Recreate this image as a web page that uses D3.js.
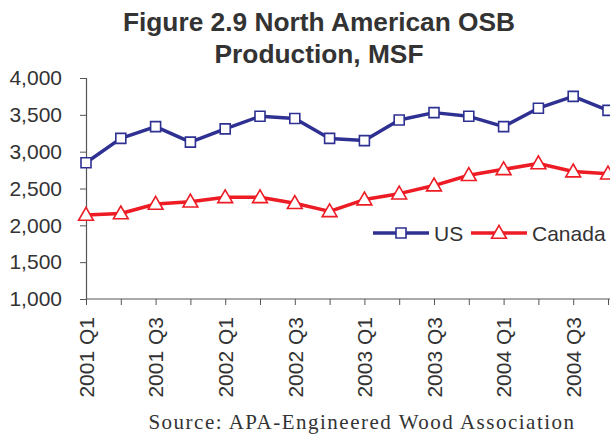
<!DOCTYPE html>
<html><head><meta charset="utf-8">
<script src="https://d3js.org/d3.v7.min.js"></script>
<style>html,body{margin:0;padding:0;background:#fff;}svg{display:block;}</style>
</head><body>
<script>
const quarters = ["2001 Q1","2001 Q2","2001 Q3","2001 Q4","2002 Q1","2002 Q2","2002 Q3","2002 Q4",
  "2003 Q1","2003 Q2","2003 Q3","2003 Q4","2004 Q1","2004 Q2","2004 Q3","2004 Q4"];
const usValues = [2850,3180,3340,3130,3310,3480,3450,3180,3150,3430,3530,3480,3340,3590,3750,3560];
const canadaValues = [2140,2160,2290,2320,2380,2380,2300,2190,2350,2430,2540,2680,2760,2840,2730,2700];
const yTicks = [1000,1500,2000,2500,3000,3500,4000];
const titleLines = ["Figure 2.9 North American OSB","Production, MSF"];
const sourceText = "Source: APA-Engineered Wood Association";

const W = 610, H = 434;
const svg = d3.select("body").append("svg").attr("width", W).attr("height", H);
const x = d3.scalePoint().domain(quarters).range([86, 608]);
const y = d3.scaleLinear().domain([1000, 4000]).range([299, 78]);
const axisColor = "#555";
const textColor = "#333";
const sans = "Liberation Sans, Arial, sans-serif";

// title
svg.append("g").selectAll("text").data(titleLines).join("text")
  .attr("x", 319).attr("y", (d,i) => 31 + i*32)
  .attr("text-anchor", "middle")
  .attr("font-family", sans)
  .attr("font-weight", "bold").attr("font-size", 26.3).attr("fill", textColor)
  .text(d => d);

// y axis
const yAxis = svg.append("g").attr("transform", "translate(86,0)")
  .call(d3.axisLeft(y).tickValues(yTicks).tickFormat(d3.format(",")).tickSize(6).tickPadding(18));
yAxis.select(".domain").attr("stroke", axisColor).attr("stroke-width", 1.2);
yAxis.selectAll(".tick line").attr("stroke", axisColor);
yAxis.selectAll(".tick text").attr("font-family", sans)
  .attr("font-size", 21).attr("fill", textColor).attr("x", -24);

// x axis
const xAxis = svg.append("g").attr("transform", "translate(0,299)")
  .call(d3.axisBottom(x).tickSize(6).tickSizeOuter(0)
    .tickFormat((d,i) => i % 2 === 0 ? d : ""));
xAxis.select(".domain").attr("stroke", axisColor).attr("stroke-width", 1.2)
  .attr("d", "M86,0H610");
xAxis.selectAll(".tick line").attr("stroke", axisColor);
xAxis.selectAll(".tick text")
  .attr("font-family", sans)
  .attr("font-size", 21).attr("fill", textColor)
  .attr("transform", "rotate(-90)")
  .attr("text-anchor", "end")
  .attr("x", -18).attr("y", 0).attr("dy", "0.35em");

const series = [
  {name: "US", values: usValues, color: "#2E3192", marker: "square"},
  {name: "Canada", values: canadaValues, color: "#ED1C24", marker: "triangle"}
];
const line = d3.line().x((d,i) => x(quarters[i])).y(d => y(d));
const sq = d3.symbol().type(d3.symbolSquare).size(100);
const tri = d3.symbol().type(d3.symbolTriangle).size(95);

const plot = svg.append("g");
series.forEach(s => {
  plot.append("path").datum(s.values).attr("d", line)
    .attr("fill", "none").attr("stroke", s.color).attr("stroke-width", 3.5)
    .attr("stroke-linejoin", "round");
  plot.selectAll(null).data(s.values).join("path")
    .attr("transform", (d,i) => `translate(${x(quarters[i])},${y(d) + (s.marker === "triangle" ? 1 : 0)})`)
    .attr("d", s.marker === "square" ? sq : tri)
    .attr("fill", "#fff").attr("stroke", s.color).attr("stroke-width", 1.6);
});

// legend
const legend = svg.append("g");
const legItems = [{s: series[0], x0: 373, tx: 434}, {s: series[1], x0: 471, tx: 532}];
legItems.forEach(li => {
  legend.append("line").attr("x1", li.x0).attr("x2", li.x0 + 56).attr("y1", 233).attr("y2", 233)
    .attr("stroke", li.s.color).attr("stroke-width", 3.5);
  legend.append("path").attr("transform", `translate(${li.x0 + 28},${233 + (li.s.marker === "triangle" ? 1 : 0)})`)
    .attr("d", li.s.marker === "square" ? sq : tri)
    .attr("fill", "#fff").attr("stroke", li.s.color).attr("stroke-width", 1.6);
  legend.append("text").attr("x", li.tx).attr("y", 233).attr("dy", "0.36em")
    .attr("font-family", sans).attr("font-size", 21)
    .attr("fill", textColor).text(li.s.name);
});

// source
svg.append("text").attr("x", 362).attr("y", 429).attr("text-anchor", "middle")
  .attr("font-family", "Liberation Serif, Times New Roman, serif").attr("font-size", 21)
  .attr("letter-spacing", 1.5)
  .attr("fill", textColor).text(sourceText);
</script>
</body></html>
